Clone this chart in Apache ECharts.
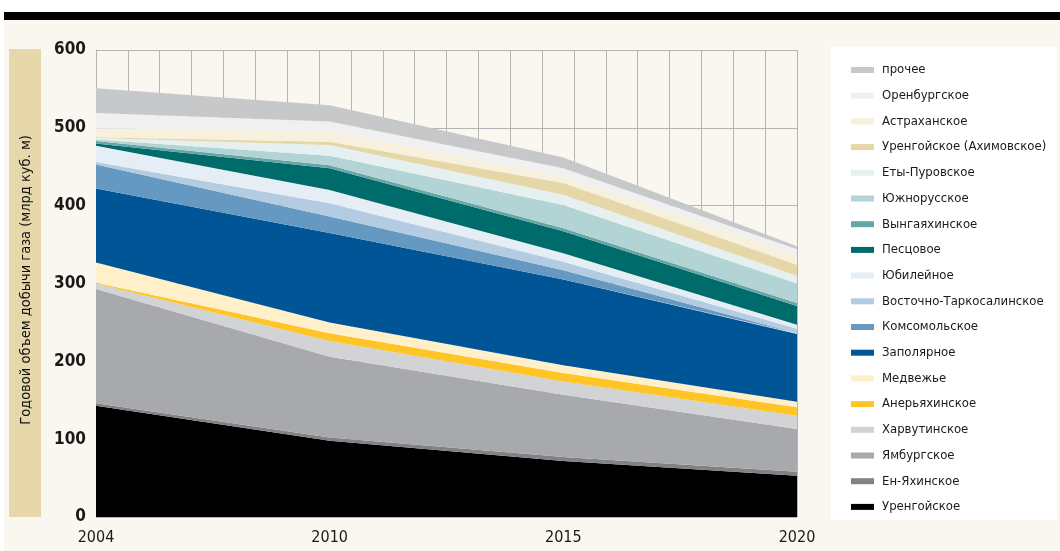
<!DOCTYPE html>
<html>
<head>
<meta charset="utf-8">
<script src="https://cdn.jsdelivr.net/npm/echarts@6/dist/echarts.min.js"></script>
<style>
html,body{margin:0;padding:0;background:#ffffff;}
#c{width:1060px;height:551px;}
</style>
</head>
<body>
<div id="c"></div>
<script>
var categories = ['2004', '2010', '2015', '2020'];
var yTicks = [0, 100, 200, 300, 400, 500, 600];

var urengoy        = [143, 98, 72, 53];
var enYakhinskoye  = [3, 4, 5, 5];
var yamburg        = [147, 104, 80, 55];
var kharvuta       = [7, 20, 17, 17];
var aneryakha      = [1, 10, 11, 11];
var medvezhye      = [26, 14, 10, 7];
var zapolyarnoye   = [95, 115, 110, 87];
var komsomolskoye  = [31, 21, 12, 1];
var vostTarko      = [3, 17, 11, 6];
var yubileynoye    = [21, 17, 11, 5];
var pestsovoye     = [3, 28, 28, 24];
var vyngayakha     = [3, 4, 4, 4];
var yuzhnoRusskoye = [2, 12, 30, 25];
var etyPurovskoye  = [2, 14, 13, 10];
var urengoyAchim   = [1, 4, 15, 14];
var astrakhan      = [11, 14, 8, 12];
var orenburg       = [20, 12, 11, 8];
var other          = [32, 21, 14, 4];

var seriesDefs = [
  ['Уренгойское', urengoy, '#000000'],
  ['Ен-Яхинское', enYakhinskoye, '#808285'],
  ['Ямбургское', yamburg, '#a7a9ac'],
  ['Харвутинское', kharvuta, '#d1d3d4'],
  ['Анерьяхинское', aneryakha, '#ffc425'],
  ['Медвежье', medvezhye, '#fff0c9'],
  ['Заполярное', zapolyarnoye, '#005596'],
  ['Комсомольское', komsomolskoye, '#6699c2'],
  ['Восточно-Таркосалинское', vostTarko, '#b3cce2'],
  ['Юбилейное', yubileynoye, '#e6eef5'],
  ['Песцовое', pestsovoye, '#006b6b'],
  ['Вынгаяхинское', vyngayakha, '#66a6a6'],
  ['Южнорусское', yuzhnoRusskoye, '#b3d4d4'],
  ['Еты-Пуровское', etyPurovskoye, '#e6f0f0'],
  ['Уренгойское (Ахимовское)', urengoyAchim, '#e6d7a8'],
  ['Астраханское', astrakhan, '#f6f0dc'],
  ['Оренбургское', orenburg, '#f0f0f1'],
  ['прочее', other, '#c7c8ca']
];

var FONT = "'Liberation Sans Narrow', 'DejaVu Sans Condensed', 'Roboto', sans-serif";

var series = seriesDefs.map(function (d) {
  return {
    name: d[0],
    type: 'line',
    stack: 'total',
    data: d[1],
    xAxisIndex: 0,
    yAxisIndex: 0,
    showSymbol: false,
    symbol: 'none',
    silent: true,
    color: d[2],
    itemStyle: { color: d[2] },
    lineStyle: { width: 0, color: d[2] },
    areaStyle: { color: d[2], opacity: 1 }
  };
});

var legendNames = seriesDefs.map(function (d) { return d[0]; }).reverse();

var chart = echarts.init(document.getElementById('c'), null, { renderer: 'canvas' });
chart.setOption({
  animation: false,
  backgroundColor: '#ffffff',
  textStyle: { fontFamily: FONT },
  graphic: [
    { type: 'rect', z: -10, shape: { x: 4, y: 20, width: 1056, height: 531 }, style: { fill: '#f9f7ef' } },
    { type: 'rect', z: -9, shape: { x: 4, y: 12, width: 1056, height: 8 }, style: { fill: '#000000' } },
    { type: 'rect', z: -9, shape: { x: 9, y: 49, width: 32, height: 468 }, style: { fill: '#e6d8ab' } },
    { type: 'rect', z: -9, shape: { x: 831, y: 47, width: 227, height: 473 }, style: { fill: '#ffffff' } },
    { type: 'text', z: 5, x: 26, y: 280, rotation: Math.PI / 2,
      style: { text: 'Годовой объем добычи газа (млрд куб. м)', fontFamily: FONT, fontSize: 14.5,
               fill: '#111111', align: 'center', verticalAlign: 'middle' } }
  ],
  grid: { left: 96, right: 263, top: 50, bottom: 34, containLabel: false },
  legend: {
    data: legendNames,
    orient: 'vertical',
    left: 846,
    top: 57,
    icon: 'rect',
    itemWidth: 23,
    itemHeight: 6,
    itemGap: 9.7,
    selectedMode: false,
    textStyle: { fontFamily: FONT, fontSize: 13, color: '#1a1a1a', lineHeight: 16, padding: [0, 0, 0, 3] }
  },
  xAxis: [
    {
      type: 'category',
      data: categories,
      boundaryGap: false,
      axisLine: { show: false },
      axisTick: { show: false },
      splitLine: { show: false },
      axisLabel: { fontFamily: FONT, fontSize: 16, color: '#1a1a1a', margin: 13 }
    },
    {
      type: 'value',
      position: 'top',
      min: 0, max: 22, interval: 1,
      axisLine: { show: false },
      axisTick: { show: false },
      axisLabel: { show: false },
      splitLine: { show: true, lineStyle: { color: '#b5b5b5', width: 1 } }
    }
  ],
  yAxis: {
    type: 'value',
    min: yTicks[0], max: yTicks[yTicks.length - 1], interval: 100,
    axisLine: { show: true, lineStyle: { color: '#b5b5b5', width: 1 } },
    axisTick: { show: false },
    splitLine: { show: true, lineStyle: { color: '#b5b5b5', width: 1 } },
    axisLabel: { fontFamily: FONT, fontSize: 17, fontWeight: 'bold', color: '#1a1a1a', margin: 10 }
  },
  series: series
});
</script>
</body>
</html>
